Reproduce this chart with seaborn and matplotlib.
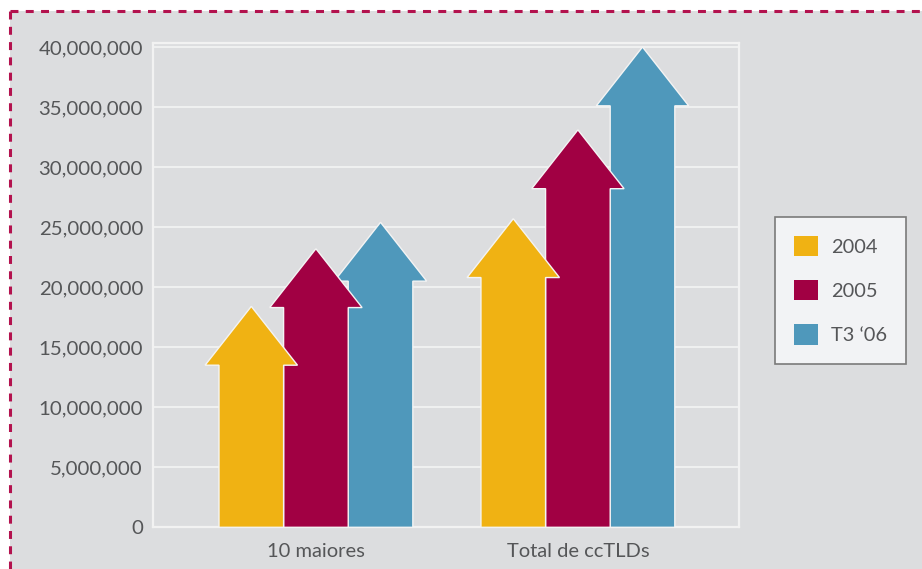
import matplotlib
matplotlib.use("Agg")
import matplotlib.pyplot as plt
import seaborn as sns
import pandas as pd
from matplotlib.patches import Polygon, Rectangle, Patch
from matplotlib.lines import Line2D
from matplotlib.ticker import FuncFormatter

# ---- data ----
categories = ["10 maiores", "Total de ccTLDs"]
series = ["2004", "2005", "T3 \u201806"]
values_2004 = [18_400_000, 25_700_000]
values_2005 = [23_200_000, 33_100_000]
values_t306 = [25_400_000, 40_000_000]
y_ticks = [0, 5_000_000, 10_000_000, 15_000_000, 20_000_000,
           25_000_000, 30_000_000, 35_000_000, 40_000_000]

colors = ["#F0B213", "#A10043", "#4F98BB"]
BG = "#DCDDDF"
TXT = "#555658"

sns.set_style("white")
plt.rcParams["font.family"] = ["Lato", "DejaVu Sans"]

df = pd.DataFrame({
    "category": categories * 3,
    "period": [series[0]] * 2 + [series[1]] * 2 + [series[2]] * 2,
    "value": values_2004 + values_2005 + values_t306,
})

W, H = 922, 569
fig = plt.figure(figsize=(W / 100, H / 100), dpi=100, facecolor="white")

# grey panel with dashed border (top & left)
bx, by = 10 / W, 1 - 10.5 / H
fig.patches.append(Rectangle((bx, 0), 1 - bx, by, transform=fig.transFigure,
                             facecolor=BG, edgecolor="none", zorder=-10))
dash = dict(color="#B3124E", lw=2.2, linestyle=(0, (2.6, 2.4)),
            transform=fig.transFigure, solid_capstyle="butt")
fig.lines.append(Line2D([bx, bx], [0, by], **dash))
fig.lines.append(Line2D([bx, 1], [by, by], **dash))

ax = fig.add_axes([152.7 / W, 1 - 527.3 / H, (739 - 152.7) / W, (527.3 - 43.4) / H])
ax.set_facecolor(BG)

sns.barplot(data=df, x="category", y="value", hue="period", palette=colors,
            width=0.74, gap=0, ax=ax, legend=False, errorbar=None)

HEAD = 4_900_000
zorders = [5, 4, 3]
for i, cont in enumerate(ax.containers):
    for bar in cont:
        x, w, h = bar.get_x(), bar.get_width(), bar.get_height()
        bar.set_visible(False)
        cx = x + w / 2
        bw = w / 2
        hw = w * 1.43 / 2
        s = h - HEAD
        pts = [(cx - bw, 0), (cx - bw, s), (cx - hw, s), (cx, h),
               (cx + hw, s), (cx + bw, s), (cx + bw, 0)]
        ax.add_patch(Polygon(pts, closed=True, facecolor=colors[i],
                             edgecolor="#F4F4F4", lw=1.0, zorder=zorders[i]))

ax.set_xlim(-0.623, 1.615)
ax.set_ylim(0, 40_300_000)
ax.set_yticks(y_ticks)
ax.yaxis.set_major_formatter(FuncFormatter(lambda v, p: f"{v:,.0f}"))
ax.grid(axis="y", color="#F4F4F4", lw=1.2, zorder=0)
ax.grid(axis="x", visible=False)
ax.set_axisbelow(True)
for sp in ax.spines.values():
    sp.set_visible(True)
    sp.set_color("#F2F2F2")
    sp.set_linewidth(1.6)
ax.tick_params(axis="y", length=0, pad=7, labelsize=14.7, labelcolor=TXT)
ax.tick_params(axis="x", length=0, pad=11, labelsize=14.5, labelcolor=TXT)
ax.set_xlabel("")
ax.set_ylabel("")

handles = [Patch(facecolor=c, edgecolor="none") for c in colors]
leg = fig.legend(handles, series, loc="upper left",
                 bbox_to_anchor=(775 / W, 1 - 217 / H),
                 bbox_transform=fig.transFigure,
                 fontsize=14.4, frameon=True, fancybox=False,
                 handlelength=1.18, handleheight=1.18, handletextpad=0.65,
                 labelspacing=1.2, borderpad=0.95, borderaxespad=0)
leg.get_frame().set_facecolor("#F2F3F5")
leg.get_frame().set_edgecolor("#7A7A7A")
leg.get_frame().set_linewidth(1.2)
leg.get_frame().set_alpha(1)
for t in leg.get_texts():
    t.set_color(TXT)

fig.savefig("out.png", dpi=100, facecolor="white")
